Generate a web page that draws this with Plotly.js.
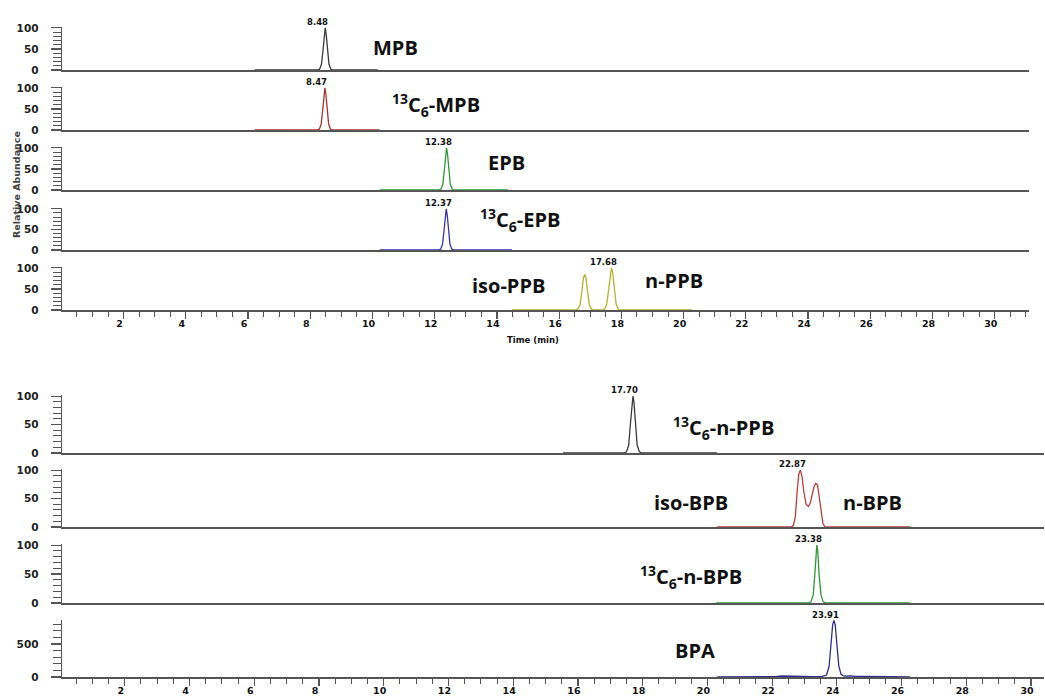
<!DOCTYPE html>
<html><head><meta charset="utf-8">
<script src="https://cdn.plot.ly/plotly-3.0.1.min.js"></script>
<style>html,body{margin:0;padding:0;background:#fff}#chart{width:1045px;height:698px}</style>
</head><body><div id="chart"></div><script>
// ---------- DATA ----------
// Top group (time in min, relative abundance %)
const mpbX   = [6.21, 8.22, 8.30, 8.36, 8.41, 8.45, 8.48, 8.51, 8.55, 8.60, 8.66, 8.74, 10.17];
const mpbY   = [0, 0, 2, 14, 48, 86, 100, 86, 48, 14, 2, 0, 0];
const c13mpbX = [6.21, 8.21, 8.29, 8.35, 8.40, 8.44, 8.47, 8.50, 8.54, 8.59, 8.65, 8.73, 10.23];
const c13mpbY = [0, 0, 2, 14, 48, 86, 100, 86, 48, 14, 2, 0, 0];
const epbX   = [10.23, 12.12, 12.20, 12.26, 12.31, 12.35, 12.38, 12.41, 12.45, 12.50, 12.56, 12.64, 14.35];
const epbY   = [0, 0, 2, 14, 48, 86, 100, 86, 48, 14, 2, 0, 0];
const c13epbX = [10.23, 12.11, 12.19, 12.25, 12.30, 12.34, 12.37, 12.40, 12.44, 12.49, 12.55, 12.63, 14.48];
const c13epbY = [0, 0, 2, 14, 48, 86, 100, 86, 48, 14, 2, 0, 0];
const ppbX   = [14.48, 16.52, 16.60, 16.67, 16.73, 16.78, 16.82, 16.86, 16.91, 16.97, 17.04, 17.12, 17.38, 17.46, 17.53, 17.59, 17.64, 17.68, 17.72, 17.77, 17.83, 17.90, 17.98, 20.27];
const ppbY   = [0, 0, 2, 12, 44, 76, 84, 76, 44, 12, 2, 0, 0, 2, 14, 50, 88, 100, 88, 50, 14, 2, 0, 0];
// Bottom group
const c13nppbX = [15.54, 17.42, 17.50, 17.57, 17.62, 17.67, 17.70, 17.73, 17.78, 17.83, 17.90, 17.98, 20.30];
const c13nppbY = [0, 0, 2, 14, 50, 90, 100, 90, 50, 14, 2, 0, 0];
const bpbX   = [20.30, 22.60, 22.66, 22.72, 22.77, 22.82, 22.87, 22.92, 22.98, 23.05, 23.12, 23.18, 23.24, 23.30, 23.35, 23.40, 23.45, 23.51, 23.57, 23.64, 23.72, 26.26];
const bpbY   = [0, 0, 3, 20, 60, 92, 100, 90, 62, 40, 36, 42, 58, 72, 77, 74, 55, 25, 6, 0, 0, 0];
const c13nbpbX = [20.27, 23.13, 23.20, 23.27, 23.32, 23.36, 23.38, 23.41, 23.45, 23.51, 23.58, 23.66, 26.26];
const c13nbpbY = [0, 0, 2, 14, 50, 90, 100, 90, 50, 14, 2, 0, 0];
const bpaX   = [20.30, 21.80, 22.10, 22.30, 22.50, 22.70, 23.00, 23.30, 23.55, 23.68, 23.76, 23.82, 23.87, 23.91, 23.95, 24.00, 24.06, 24.13, 24.22, 24.40, 24.60, 24.90, 25.30, 25.70, 26.26];
const bpaY   = [0, 0, 6, 15, 12, 10, 8, 6, 10, 30, 160, 480, 790, 860, 790, 500, 170, 40, 12, 18, 8, 10, 4, 0, 0];

// Peak labels (retention times as printed)
const rtLabels = ['8.48', '8.47', '12.38', '12.37', '17.68', '17.70', '22.87', '23.38', '23.91'];
// Compound names
const compoundNames = ['MPB', '<sup>13</sup>C<sub>6</sub>-MPB', 'EPB', '<sup>13</sup>C<sub>6</sub>-EPB', 'iso-PPB', 'n-PPB',
  '<sup>13</sup>C<sub>6</sub>-n-PPB', 'iso-BPB', 'n-BPB', '<sup>13</sup>C<sub>6</sub>-n-BPB', 'BPA'];
const xTickVals = [2, 4, 6, 8, 10, 12, 14, 16, 18, 20, 22, 24, 26, 28, 30];

// ---------- LAYOUT ----------
const W = 1045, H = 698;
const PX = p => p / W, PY = p => 1 - p / H;

const panels = [
  {x: mpbX, y: mpbY, color: '#3a3a3a', top: 27, bot: 70, g: 0, ymax: 102, tv: [0, 50, 100], md: 10},
  {x: c13mpbX, y: c13mpbY, color: '#a83232', top: 87, bot: 130, g: 0, ymax: 102, tv: [0, 50, 100], md: 10},
  {x: epbX, y: epbY, color: '#2f9a35', top: 147, bot: 190, g: 0, ymax: 102, tv: [0, 50, 100], md: 10},
  {x: c13epbX, y: c13epbY, color: '#3535b0', top: 208, bot: 250, g: 0, ymax: 102, tv: [0, 50, 100], md: 10},
  {x: ppbX, y: ppbY, color: '#b3b32e', top: 267, bot: 310, g: 0, ymax: 102, tv: [0, 50, 100], md: 10, last: true},
  {x: c13nppbX, y: c13nppbY, color: '#3a3a3a', top: 395, bot: 453, g: 1, ymax: 102, tv: [0, 50, 100], md: 10},
  {x: bpbX, y: bpbY, color: '#c23a3a', top: 469, bot: 527, g: 1, ymax: 102, tv: [0, 50, 100], md: 10},
  {x: c13nbpbX, y: c13nbpbY, color: '#2f9a35', top: 544, bot: 603, g: 1, ymax: 102, tv: [0, 50, 100], md: 10},
  {x: bpaX, y: bpaY, color: '#2e2e8e', top: 620, bot: 677, g: 1, ymax: 865, tv: [0, 500], md: 100, last: true}
];
const groups = [
  {xd: [PX(62), PX(1029)], range: [0.02, 31.1]},
  {xd: [PX(62), PX(1044)], range: [0.06, 30.4]}
];

const axisCol = '#555';
const tickFont = {family: 'DejaVu Sans', size: 10.5, color: '#222', weight: 'bold'};
const data = [];
const layout = {
  width: W, height: H, margin: {l: 0, r: 0, t: 0, b: 0},
  paper_bgcolor: '#fff', plot_bgcolor: 'rgba(0,0,0,0)', showlegend: false,
  annotations: []
};

panels.forEach((p, i) => {
  const n = i + 1, xs = n === 1 ? '' : n, xa = 'xaxis' + xs, ya = 'yaxis' + xs;
  const grp = groups[p.g];
  data.push({type: 'scatter', mode: 'lines', x: p.x, y: p.y, xaxis: 'x' + xs, yaxis: 'y' + xs,
    line: {color: p.color, width: 1.3}, hoverinfo: 'skip'});
  layout[xa] = {
    domain: grp.xd, range: grp.range, anchor: 'y' + xs,
    showline: true, linecolor: axisCol, linewidth: 1.6, showgrid: false, zeroline: false,
    ticks: p.last ? 'outside' : '', ticklen: 7, tickwidth: 1.2, tickcolor: axisCol,
    showticklabels: !!p.last, tickmode: 'array', tickvals: xTickVals,
    ticklabelshift: -4, ticklabelstandoff: -3,
    tickfont: {family: 'DejaVu Sans', size: 9.5, color: '#111', weight: 'bold'},
    minor: p.last ? {tickmode: 'linear', tick0: 0, dtick: 0.5, ticks: 'outside', ticklen: 5, tickcolor: axisCol, tickwidth: 1} : undefined
  };
  layout[ya] = {
    domain: [PY(p.bot), PY(p.top)], range: [0, p.ymax], anchor: 'x' + xs,
    showline: true, linecolor: axisCol, linewidth: 1.4, showgrid: false, zeroline: false,
    ticks: 'outside', ticklen: 10, tickwidth: 1.2, tickcolor: axisCol,
    tickmode: 'array', tickvals: p.tv, tickfont: tickFont, ticklabelstandoff: 10,
    minor: {tickmode: 'linear', tick0: 0, dtick: p.md, ticks: 'outside', ticklen: 8, tickcolor: axisCol, tickwidth: 1}
  };
});

// retention-time labels placed at the apex (max point) of each labelled trace
const rtPanels = [0, 1, 2, 3, 4, 5, 6, 7, 8];
rtPanels.forEach((pi, k) => {
  const p = panels[pi];
  let mi = 0; p.y.forEach((v, j) => { if (v > p.y[mi]) mi = j; });
  const xs = pi === 0 ? '' : pi + 1;
  layout.annotations.push({xref: 'x' + xs, yref: 'y' + xs, x: p.x[mi], y: p.y[mi] * (p.ymax > 200 ? 0.985 : 1),
    text: rtLabels[k], showarrow: false, yanchor: 'bottom', xanchor: 'center', xshift: -8, yshift: -1,
    font: {family: 'DejaVu Sans', size: 8.5, color: '#111', weight: 'bold'}});
});

// compound name labels (pixel centres)
const namePos = [[395, 48], [436, 105], [506, 163], [520, 220], [508, 285], [674, 280],
  [723, 428], [691, 502], [872, 502], [691, 577], [695, 650]];
compoundNames.forEach((t, k) => {
  layout.annotations.push({xref: 'paper', yref: 'paper', x: PX(namePos[k][0]), y: PY(namePos[k][1]),
    text: t, showarrow: false, xanchor: 'center', yanchor: 'middle',
    font: {family: 'Open Sans', size: 20, color: '#111', weight: 'bold'}});
});

layout.annotations.push({xref: 'paper', yref: 'paper', x: PX(16), y: PY(185), text: 'Relative Abundance',
  textangle: -90, showarrow: false, xanchor: 'center', yanchor: 'middle',
  font: {family: 'DejaVu Sans', size: 9.5, color: '#444', weight: 'bold'}});
layout.annotations.push({xref: 'paper', yref: 'paper', x: PX(533), y: PY(340), text: 'Time (min)',
  showarrow: false, xanchor: 'center', yanchor: 'middle',
  font: {family: 'DejaVu Sans', size: 8.5, color: '#111', weight: 'bold'}});

Plotly.newPlot('chart', data, layout, {staticPlot: true, displayModeBar: false});
</script></body></html>
